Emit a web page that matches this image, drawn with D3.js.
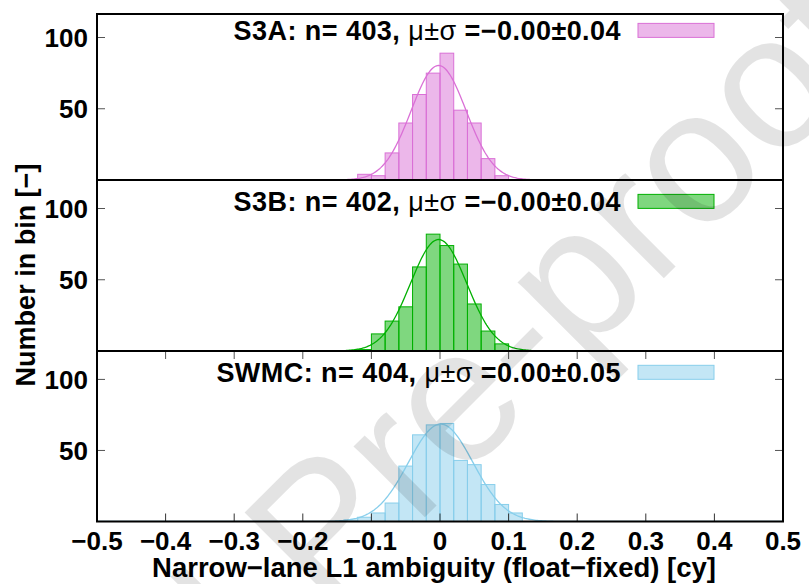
<!DOCTYPE html>
<html>
<head>
<meta charset="utf-8">
<script src="https://cdn.jsdelivr.net/npm/d3@7"></script>
<style>
  html, body { margin: 0; padding: 0; background: #fff; }
  svg { display: block; }
  text { font-family: "Liberation Sans", Arial, Helvetica, sans-serif; }
</style>
</head>
<body>
<svg id="chart" width="809" height="584"></svg>
<script>
// Histogram bins (left edges, cycles) shared by all three runs
const binLeft = [-0.14, -0.12, -0.10, -0.08, -0.06, -0.04, -0.02, 0.00, 0.02, 0.04, 0.06, 0.08, 0.10];
const binWidth = 0.02;

// Counts per bin for each run
const countsS3A  = [0, 4, 3, 19, 40, 60, 75, 89, 49, 40, 15, 3, 0];
const countsS3B  = [0, 1, 12, 21, 31, 59, 82, 74, 61, 33, 14, 5, 0];
const countsSWMC = [1, 3, 6, 13, 39, 61, 68, 69, 43, 40, 26, 12, 6];

// Run names and fitted normal parameters
const runNames = ["S3A", "S3B", "SWMC"];
const runN     = [403, 402, 404];
const runMu    = [-0.002, -0.002, 0.001];
const runSigma = [0.040, 0.041, 0.047];

// Axis ticks
const xTickValues = [-0.5, -0.4, -0.3, -0.2, -0.1, 0, 0.1, 0.2, 0.3, 0.4, 0.5];
const xTickLabels = ["\u22120.5", "\u22120.4", "\u22120.3", "\u22120.2", "\u22120.1", "0", "0.1", "0.2", "0.3", "0.4", "0.5"];
const yTickValues = [50, 100];
const yTickLabels = ["50", "100"];

const xTitle = "Narrow\u2212lane L1 ambiguity (float\u2212fixed) [cy]";
const yTitle = "Number in bin [\u2212]";

// Styling per run
const strokeColors = ["#da70d6", "#00b000", "#87ceeb"];

const svg = d3.select("#chart");
const left = 97, right = 783;

const panels = [
  { top: 14,  bottom: 180,   yMax: 116.5, counts: countsS3A },
  { top: 180, bottom: 351,   yMax: 120,   counts: countsS3B },
  { top: 351, bottom: 521.5, yMax: 120,   counts: countsSWMC }
];

const x = d3.scaleLinear().domain([-0.5, 0.5]).range([left, right]);

const fmt = v => v.toFixed(2).replace("-", "\u2212");

const defs = svg.append("defs");

panels.forEach((p, i) => {
  const y = d3.scaleLinear().domain([0, p.yMax]).range([p.bottom, p.top]);
  const g = svg.append("g").attr("class", "panel");
  const color = strokeColors[i];

  defs.append("clipPath").attr("id", "clip" + i)
    .append("rect").attr("x", left).attr("y", p.top).attr("width", right - left).attr("height", p.bottom - p.top);

  const plot = g.append("g").attr("clip-path", `url(#clip${i})`);

  // bars
  plot.selectAll("rect.bar")
    .data(binLeft.map((b, k) => ({ x0: b, x1: b + binWidth, c: p.counts[k] })).filter(d => d.c > 0))
    .join("rect")
    .attr("class", "bar")
    .attr("x", d => x(d.x0))
    .attr("width", d => x(d.x1) - x(d.x0))
    .attr("y", d => y(d.c))
    .attr("height", d => y(0) - y(d.c))
    .attr("fill", color)
    .attr("fill-opacity", 0.5)
    .attr("stroke", color)
    .attr("stroke-width", 1);

  // fitted normal curve scaled to counts per bin
  const n = runN[i], mu = runMu[i], sd = runSigma[i];
  const amp = n * binWidth / (sd * Math.sqrt(2 * Math.PI));
  const xs = d3.range(-0.5, 0.5001, 0.002);
  const line = d3.line()
    .x(v => x(v))
    .y(v => y(amp * Math.exp(-((v - mu) ** 2) / (2 * sd * sd))));
  plot.append("path")
    .attr("d", line(xs))
    .attr("fill", "none")
    .attr("stroke", color)
    .attr("stroke-width", 1.3);

  // y ticks (left and mirrored right)
  yTickValues.forEach((v, k) => {
    g.append("line").attr("x1", left).attr("x2", left + 8).attr("y1", y(v)).attr("y2", y(v))
      .attr("stroke", "#555").attr("stroke-width", 1);
    g.append("line").attr("x1", right - 8).attr("x2", right).attr("y1", y(v)).attr("y2", y(v))
      .attr("stroke", "#555").attr("stroke-width", 1);
    g.append("text")
      .attr("x", 88).attr("y", y(v))
      .attr("dy", "0.36em")
      .attr("text-anchor", "end")
      .attr("font-size", 26).attr("font-weight", "bold")
      .text(yTickLabels[k]);
  });

  // legend
  const keyY = y(105);
  const label = g.append("text")
    .attr("x", 621).attr("y", keyY)
    .attr("dy", "0.36em")
    .attr("text-anchor", "end")
    .attr("font-size", 27).attr("font-weight", "bold")
    .attr("letter-spacing", 0.45);
  label.append("tspan").text(`${runNames[i]}: n= ${n}, `);
  label.append("tspan").attr("font-weight", "normal").text("\u03bc\u00b1\u03c3");
  label.append("tspan").text(` =${fmt(mu)}\u00b1${fmt(sd)}`);
  g.append("rect")
    .attr("x", 638).attr("y", keyY - 7).attr("width", 76).attr("height", 14)
    .attr("fill", color).attr("fill-opacity", 0.5)
    .attr("stroke", color).attr("stroke-width", 1);
});

// x ticks on the bottom panel (bottom edge and mirrored top edge)
const bp = panels[2];
xTickValues.forEach((v, k) => {
  svg.append("line").attr("x1", x(v)).attr("x2", x(v)).attr("y1", bp.bottom).attr("y2", bp.bottom - 8)
    .attr("stroke", "#333").attr("stroke-width", 1);
  svg.append("line").attr("x1", x(v)).attr("x2", x(v)).attr("y1", bp.top).attr("y2", bp.top + 8)
    .attr("stroke", "#555").attr("stroke-width", 1);
  svg.append("text")
    .attr("x", x(v)).attr("y", 550)
    .attr("text-anchor", "middle")
    .attr("font-size", 26).attr("font-weight", "bold")
    .text(xTickLabels[k]);
});

// frames
panels.forEach(p => {
  svg.append("rect")
    .attr("x", left).attr("y", p.top).attr("width", right - left).attr("height", p.bottom - p.top)
    .attr("fill", "none").attr("stroke", "#000").attr("stroke-width", 2);
});

// axis titles
svg.append("text")
  .attr("x", (left + right) / 2 - 6).attr("y", 577)
  .attr("text-anchor", "middle")
  .attr("font-size", 27.5).attr("font-weight", "bold")
  .text(xTitle);

svg.append("text")
  .attr("transform", "translate(35,275) rotate(-90)")
  .attr("text-anchor", "middle")
  .attr("font-size", 27).attr("font-weight", "bold")
  .text(yTitle);

// watermark over the plot, translucent
const wm = svg.append("g")
  .attr("transform", "translate(326,616) rotate(-45)")
  .style("pointer-events", "none");
const wmText = wm.append("text")
  .attr("font-size", 190)
  .attr("fill", "#000")
  .attr("fill-opacity", 0.11)
  .text("Journal Pre-proof");
wmText.attr("x", -wmText.node().getSubStringLength(0, 8));
</script>
</body>
</html>
